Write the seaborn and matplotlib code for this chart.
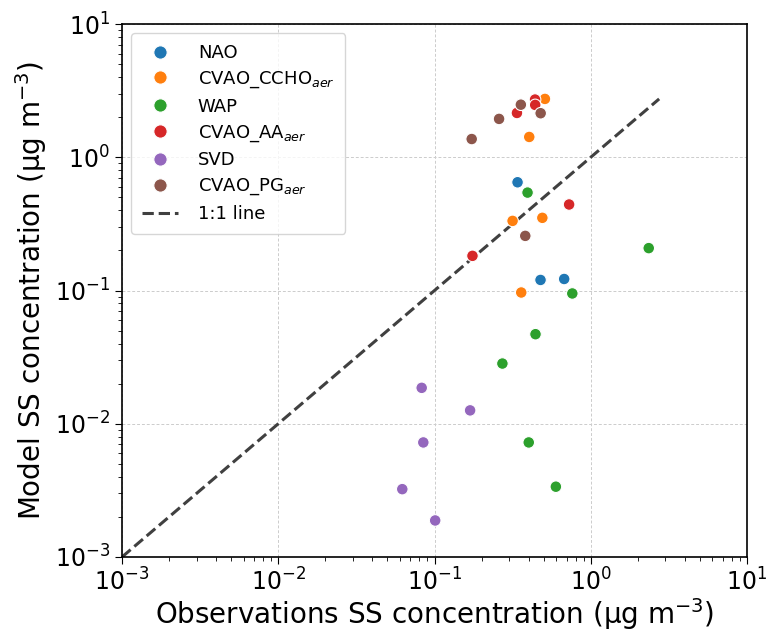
import numpy as np
import pandas as pd
import seaborn as sns
import matplotlib.pyplot as plt

sns.set_style("ticks")
plt.rcParams.update({"text.color": "black", "axes.labelcolor": "black",
                     "xtick.color": "black", "ytick.color": "black"})

# observations / model SS concentration (ug m-3)
nao_obs = [0.340, 0.477, 0.676]
nao_mod = [0.649, 0.120, 0.122]

ccho_obs = [0.509, 0.404, 0.316, 0.490, 0.359]
ccho_mod = [2.74, 1.42, 0.333, 0.351, 0.0966]

wap_obs = [0.394, 0.762, 2.35, 0.443, 0.272, 0.401, 0.598]
wap_mod = [0.543, 0.0950, 0.208, 0.047, 0.0283, 0.00724, 0.00337]

aa_obs = [0.440, 0.441, 0.337, 0.727, 0.175]
aa_mod = [2.71, 2.47, 2.15, 0.442, 0.182]

svd_obs = [0.0828, 0.169, 0.0848, 0.0622, 0.101]
svd_mod = [0.0186, 0.0126, 0.00724, 0.00323, 0.00188]

pg_obs = [0.357, 0.478, 0.259, 0.173, 0.381]
pg_mod = [2.48, 2.14, 1.94, 1.37, 0.257]

names = ["NAO", "CVAO_CCHO$_{aer}$", "WAP", "CVAO_AA$_{aer}$", "SVD", "CVAO_PG$_{aer}$"]
obs_all = [nao_obs, ccho_obs, wap_obs, aa_obs, svd_obs, pg_obs]
mod_all = [nao_mod, ccho_mod, wap_mod, aa_mod, svd_mod, pg_mod]

rows = []
for n, o, m in zip(names, obs_all, mod_all):
    for a, b in zip(o, m):
        rows.append((n, a, b))
df = pd.DataFrame(rows, columns=["campaign", "obs", "mod"])

fig = plt.figure(figsize=(7.69, 6.32), dpi=100)
ax = fig.add_axes([122/769, 1-557/632, (747-122)/769, (557-24)/632])

sns.scatterplot(data=df, x="obs", y="mod", hue="campaign", hue_order=names,
                palette="tab10", s=70, edgecolor="white", linewidth=0.8, ax=ax, zorder=3)

top = max(df["obs"].max(), df["mod"].max())
line = [1e-3, top]
ax.plot(line, line, ls="--", color="#404040", lw=2.2, label="1:1 line", zorder=2)

ax.set_xscale("log")
ax.set_yscale("log")
ax.set_xlim(1e-3, 10)
ax.set_ylim(1e-3, 10)
ax.grid(True, which="major", ls=(0, (3, 2)), color="#cccccc", lw=0.7)
for s in ax.spines.values():
    s.set_color("black")
    s.set_linewidth(1.2)
ax.tick_params(which="major", labelsize=17, length=5, color="black")
ax.tick_params(which="minor", length=3, color="black")

ax.set_xlabel(r"Observations SS concentration ($\mathrm{\mu}$g m$^{-3}$)", fontsize=20, labelpad=0)
ax.set_ylabel(r"Model SS concentration ($\mathrm{\mu}$g m$^{-3}$)", fontsize=20, labelpad=4)

ax.legend(loc="upper left", fontsize=13, frameon=True, markerscale=1.15,
          borderpad=0.6, labelspacing=0.42, handletextpad=1.1)

plt.savefig("out.png", dpi=100)
